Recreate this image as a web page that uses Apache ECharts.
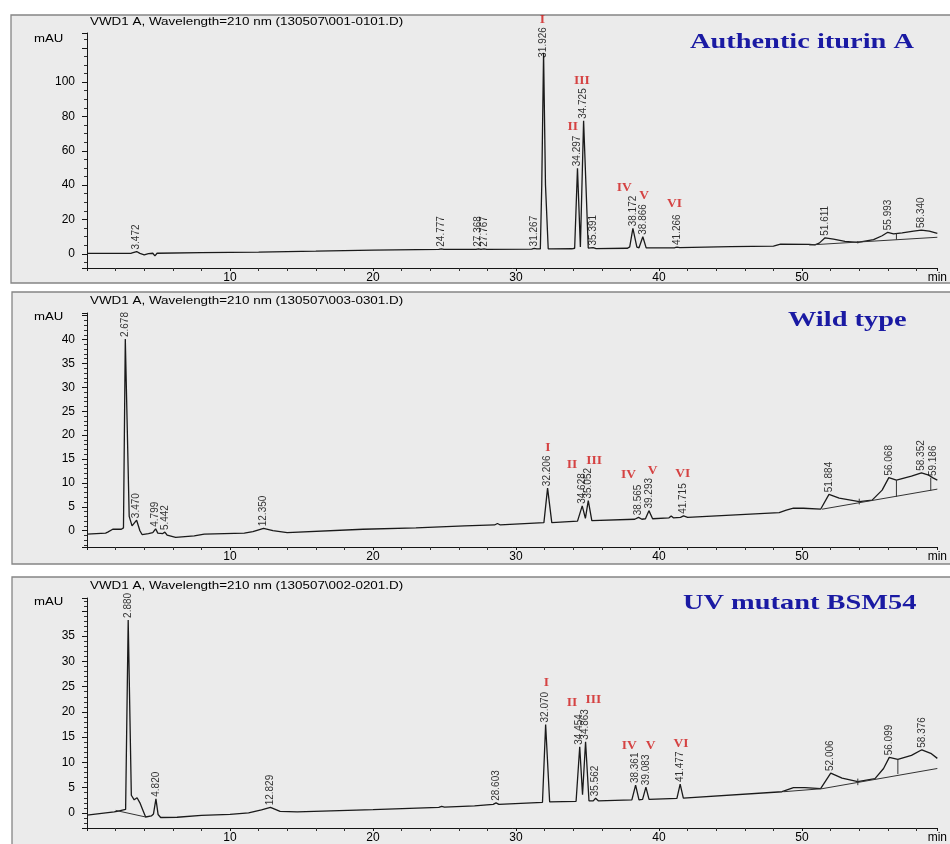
<!DOCTYPE html>
<html>
<head>
<meta charset="utf-8">
<title>HPLC chromatograms – iturin A isoforms</title>
<script src="https://cdn.jsdelivr.net/npm/echarts@6/dist/echarts.min.js"></script>
<style>
  html, body { margin: 0; padding: 0; background: #ffffff; }
  #chart { width: 950px; height: 844px; }
</style>
</head>
<body>
<div id="chart"></div>
<script>
// ---------------------------------------------------------------------------
// Run information
// ---------------------------------------------------------------------------
const runFiles = ['130507\\001-0101.D', '130507\\003-0301.D', '130507\\002-0201.D'];
const sampleNames = ['Authentic iturin A', 'Wild type', 'UV mutant BSM54'];
const isoforms = ['I', 'II', 'III', 'IV', 'V', 'VI'];
const timeAxisEnd = 59.46;           // last visible minute of the run

// ---------------------------------------------------------------------------
// Authentic iturin A standard: detector trace [min, mAU]
// ---------------------------------------------------------------------------
const authTrace = [
  [0, 0.2], [3.1, 0.3], [3.472, 1.3], [3.7, 0.2], [4.0, -0.6], [4.3, 0.1], [4.6, 0.3],
  [4.75, -1.2], [4.9, 0.3], [8, 0.7], [12, 1.0], [16, 1.5], [20, 2.1], [24.6, 2.5],
  [24.777, 2.9], [24.95, 2.5], [27.2, 2.6], [27.368, 2.9], [27.55, 2.6], [27.767, 2.9],
  [27.95, 2.6], [31.1, 2.7], [31.267, 3.1], [31.45, 2.8], [31.7, 2.8], [31.8, 40],
  [31.926, 117], [32.06, 40], [32.25, 2.9], [32.5, 2.8], [33.9, 2.9], [34.1, 3.2],
  [34.297, 49.8], [34.5, 4.0], [34.725, 77.4], [35.05, 3.3], [35.391, 3.6], [35.6, 3.0],
  [37.8, 3.2], [37.95, 4.0], [38.172, 14.8], [38.45, 3.8], [38.6, 3.5], [38.866, 9.9],
  [39.1, 3.4], [41.1, 3.5], [41.266, 3.9], [41.45, 3.6], [45, 4.1], [48.0, 4.5],
  [48.5, 5.6], [50.5, 5.5], [50.9, 5.2], [51.2, 6.2], [51.611, 9.3], [52.2, 8.5],
  [53.0, 7.2], [53.9, 6.6], [55.0, 8.2], [55.6, 10.5], [55.993, 12.5], [56.4, 11.6],
  [57.0, 12.2], [57.8, 13.2], [58.34, 13.8], [58.9, 13.2], [59.46, 11.9]
];
const authPeaks = [3.472, 24.777, 27.368, 27.767, 31.267, 31.926, 34.297, 34.725, 35.391,
  38.172, 38.866, 41.266, 51.611, 55.993, 58.340];
const authIsoformAt = [[31.85, 136.3], [33.96, 74.0], [34.6, 100.8], [37.57, 38.5], [38.95, 34.2], [41.08, 29.0]];
const authBaselines = [
  [[50.5, 5.1], [59.46, 9.6]],
  [[56.6, 11.8], [56.6, 8.2]],
  [[53.9, 7.4], [53.9, 6.0]]
];

// ---------------------------------------------------------------------------
// Wild type culture extract
// ---------------------------------------------------------------------------
const wildTrace = [
  [0, -0.7], [1.3, -0.5], [1.36, -0.1], [1.45, -0.3], [1.8, 0.3], [2.4, 0.3], [2.55, 0.6],
  [2.678, 40.1], [2.95, 3.0], [3.15, 1.0], [3.47, 2.2], [3.7, 0.0], [3.85, -0.8],
  [4.3, -0.6], [4.6, -0.4], [4.799, 0.4], [4.95, -0.5], [5.3, -0.6], [5.442, -0.3],
  [5.6, -0.9], [6.2, -1.4], [7.5, -1.1], [8.2, -0.7], [11.0, -0.5], [11.6, -0.2],
  [12.35, 0.5], [13.0, 0.0], [14.0, -0.4], [19.3, 0.3], [23, 0.6], [26.4, 1.0],
  [28.5, 1.2], [28.7, 1.5], [28.9, 1.2], [31.95, 1.7], [32.206, 8.9], [32.5, 1.7],
  [34.3, 2.0], [34.628, 5.2], [34.85, 2.6], [35.052, 6.3], [35.3, 2.1], [38.3, 2.4],
  [38.565, 2.8], [38.8, 2.4], [39.05, 2.5], [39.293, 4.2], [39.55, 2.5], [40.7, 2.7],
  [40.85, 3.1], [41.0, 2.7], [41.5, 2.8], [41.715, 3.1], [42.0, 2.8], [48.4, 3.8],
  [48.9, 4.3], [49.4, 4.7], [50.1, 4.7], [51.3, 4.5], [51.884, 7.6], [52.6, 6.8],
  [54.0, 6.1], [54.9, 6.4], [55.6, 8.5], [56.068, 11.1], [56.6, 10.6], [57.65, 11.4],
  [58.352, 12.1], [58.8, 11.7], [59.186, 11.0], [59.46, 10.6]
];
const wildPeaks = [2.678, 3.470, 4.799, 5.442, 12.350, 32.206, 34.628, 35.052, 38.565,
  39.293, 41.715, 51.884, 56.068, 58.352, 59.186];
const wildIsoformAt = [[32.22, 17.4], [33.92, 13.9], [35.46, 14.7], [37.87, 11.8], [39.55, 12.6], [41.66, 12.0]];
const wildBaselines = [
  [[51.4, 4.5], [59.46, 8.7]],
  [[56.6, 10.6], [56.6, 7.1]],
  [[59.0, 11.1], [59.0, 8.4]],
  [[54.0, 6.7], [54.0, 5.5]]
];

// ---------------------------------------------------------------------------
// UV mutant BSM54 extract
// ---------------------------------------------------------------------------
const mutantTrace = [
  [0, -0.45], [1.9, 0.2], [2.0, 0.5], [2.1, 0.3], [2.7, 0.7], [2.88, 38.2], [3.1, 3.5],
  [3.3, 2.6], [3.5, 3.0], [3.7, 2.0], [3.9, 0.6], [4.1, -0.8], [4.5, -0.6], [4.65, -0.2],
  [4.82, 2.8], [4.97, -0.3], [5.15, -0.9], [6.3, -0.85], [8.0, -0.5], [10.0, -0.3],
  [11.3, 0.0], [12.2, 0.6], [12.829, 1.1], [13.5, 0.3], [14.7, 0.2], [20, 0.65],
  [24.6, 1.1], [24.8, 1.3], [25.0, 1.15], [27.1, 1.4], [28.4, 1.7], [28.603, 2.0],
  [28.8, 1.7], [31.85, 2.1], [32.07, 17.5], [32.35, 2.2], [34.2, 2.3], [34.454, 13.1],
  [34.65, 3.6], [34.863, 14.1], [35.1, 2.4], [35.4, 2.4], [35.562, 2.9], [35.75, 2.4],
  [38.1, 2.6], [38.361, 5.5], [38.6, 2.6], [38.85, 2.7], [39.083, 5.1], [39.3, 2.7],
  [41.25, 2.9], [41.477, 5.7], [41.7, 2.95], [48.6, 4.2], [49.0, 4.6], [49.4, 5.0],
  [50.2, 5.0], [51.3, 4.8], [52.006, 7.9], [52.8, 6.9], [53.9, 6.2], [55.1, 6.8],
  [55.7, 8.8], [56.099, 11.0], [56.7, 10.6], [57.65, 11.4], [58.376, 12.5], [59.0, 11.8],
  [59.46, 10.8]
];
const mutantPeaks = [2.880, 4.820, 12.829, 28.603, 32.070, 34.454, 34.863, 35.562, 38.361,
  39.083, 41.477, 52.006, 56.099, 58.376];
const mutantIsoformAt = [[32.12, 25.8], [33.92, 21.9], [35.41, 22.5], [37.91, 13.3], [39.41, 13.4], [41.54, 13.8]];
const mutantBaselines = [
  [[2.0, 0.5], [4.1, -0.8]],
  [[48.7, 4.2], [51.4, 4.8], [59.46, 8.8]],
  [[56.7, 10.6], [56.7, 7.7]],
  [[53.9, 6.8], [53.9, 5.5]]
];

// ---------------------------------------------------------------------------
// Panel layout (pixels) and axis settings
// ---------------------------------------------------------------------------
const panels = [
  { trace: authTrace, peaks: authPeaks, isoAt: authIsoformAt, baselines: authBaselines,
    file: runFiles[0], name: sampleNames[0],
    frame: { x: 11, y: 15, h: 268 }, grid: { top: 33, height: 235 },
    y: { min: -8.3, max: 128.6, step: 20, minor: 4, lastLabel: 100 }, labelCap: 113,
    headerY: 22, unitY: 39, nameX: 690, nameY: 42 },
  { trace: wildTrace, peaks: wildPeaks, isoAt: wildIsoformAt, baselines: wildBaselines,
    file: runFiles[1], name: sampleNames[1],
    frame: { x: 12, y: 292, h: 272 }, grid: { top: 313, height: 234 },
    y: { min: -3.41, max: 45.56, step: 5, minor: 5, lastLabel: 40 }, labelCap: Infinity,
    headerY: 301, unitY: 317, nameX: 788, nameY: 320 },
  { trace: mutantTrace, peaks: mutantPeaks, isoAt: mutantIsoformAt, baselines: mutantBaselines,
    file: runFiles[2], name: sampleNames[2],
    frame: { x: 12, y: 577, h: 280 }, grid: { top: 598, height: 234 },
    y: { min: -2.98, max: 42.55, step: 5, minor: 5, lastLabel: 35 }, labelCap: Infinity,
    headerY: 586, unitY: 602, nameX: 683, nameY: 603 }
];

const SANS = '"Liberation Sans", Arial, sans-serif';
const SERIF = '"Liberation Serif", "Times New Roman", serif';
const INK = '#151515';

// Highest trace value around a retention time (where its label sits)
function apexNear(trace, t) {
  let best = -Infinity, nearest = null, nd = Infinity;
  for (const [x, y] of trace) {
    if (Math.abs(x - t) <= 0.1) best = Math.max(best, y);
    if (Math.abs(x - t) < nd) { nd = Math.abs(x - t); nearest = y; }
  }
  return best === -Infinity ? nearest : best;
}

const grids = [], xAxes = [], yAxes = [], series = [], graphics = [];

panels.forEach((p, i) => {
  grids.push({ left: 87, right: 0, top: p.grid.top, height: p.grid.height });

  xAxes.push({
    type: 'value', gridIndex: i, min: 0, max: timeAxisEnd, interval: 10,
    axisLine: { onZero: false, lineStyle: { color: INK, width: 1 } },
    axisTick: { length: 3, lineStyle: { color: INK } },
    minorTick: { show: true, splitNumber: 5, length: 3, lineStyle: { color: '#333' } },
    splitLine: { show: false },
    axisLabel: {
      showMinLabel: true, showMaxLabel: true, alignMaxLabel: 'center', margin: 4,
      fontFamily: SANS, fontSize: 12, color: '#000',
      formatter: v => (v === 0 ? '' : (v > 59 ? 'min' : String(v)))
    }
  });

  const yc = p.y;
  yAxes.push({
    type: 'value', gridIndex: i, min: yc.min, max: yc.max,
    minInterval: yc.step, maxInterval: yc.step,
    splitNumber: Math.round((yc.max - yc.min) / yc.step),
    axisLine: { show: true, onZero: false, lineStyle: { color: INK, width: 1 } },
    axisTick: { show: true, length: 5, lineStyle: { color: INK } },
    minorTick: { show: true, splitNumber: yc.minor, length: 3, lineStyle: { color: '#333' } },
    splitLine: { show: false },
    axisLabel: {
      showMinLabel: false, showMaxLabel: false, margin: 12,
      fontFamily: SANS, fontSize: 12, color: '#000',
      formatter: v => (v < 0 || v > yc.lastLabel || Math.abs(v % yc.step) > 1e-6) ? '' : String(v)
    }
  });

  // detector signal
  series.push({
    type: 'line', xAxisIndex: i, yAxisIndex: i, data: p.trace,
    symbol: 'none', smooth: false, animation: false, z: 3,
    lineStyle: { color: '#1a1a1a', width: 1.3 }
  });

  // integration baselines and drop lines
  p.baselines.forEach(seg => {
    series.push({
      type: 'line', xAxisIndex: i, yAxisIndex: i, data: seg,
      symbol: 'none', animation: false, z: 3,
      lineStyle: { color: '#333', width: 1 }
    });
  });

  // retention-time labels above each integrated peak
  series.push({
    type: 'scatter', xAxisIndex: i, yAxisIndex: i, animation: false, clip: false, z: 4,
    symbolSize: 0.1, itemStyle: { color: 'rgba(0,0,0,0)' },
    data: p.peaks.map(rt => ({ name: rt.toFixed(3), value: [rt, Math.min(apexNear(p.trace, rt), p.labelCap)] })),
    label: {
      show: true, formatter: '{b}', position: 'top', distance: 2, rotate: 90,
      align: 'left', verticalAlign: 'middle',
      fontFamily: SANS, fontSize: 10, color: '#000'
    }
  });

  // iturin A isoform markers
  series.push({
    type: 'scatter', xAxisIndex: i, yAxisIndex: i, animation: false, clip: false, z: 5,
    symbolSize: 0.1, itemStyle: { color: 'rgba(0,0,0,0)' },
    data: p.isoAt.map((pt, k) => ({ name: isoforms[k], value: pt })),
    label: {
      show: true, formatter: '{b}', position: 'inside',
      align: 'center', verticalAlign: 'middle',
      fontFamily: SERIF, fontWeight: 'bold', fontSize: 13.5, color: '#d01818'
    }
  });

  // panel frame
  graphics.push({
    type: 'rect', z: -10, silent: true,
    shape: { x: p.frame.x, y: p.frame.y, width: 960, height: p.frame.h },
    style: { fill: '#ebebeb', stroke: '#858585', lineWidth: 1.3 }
  });
  // signal header
  graphics.push({
    type: 'text', z: 10, x: 90, y: p.headerY, scaleX: 1.22, silent: true,
    style: {
      text: 'VWD1 A, Wavelength=210 nm (' + p.file + ')',
      font: '11px ' + SANS, fill: '#000',
      align: 'left', verticalAlign: 'middle', textAlign: 'left', textVerticalAlign: 'middle'
    }
  });
  // unit
  graphics.push({
    type: 'text', z: 10, x: 34, y: p.unitY, scaleX: 1.2, silent: true,
    style: {
      text: 'mAU', font: '11px ' + SANS, fill: '#000',
      align: 'left', verticalAlign: 'middle', textAlign: 'left', textVerticalAlign: 'middle'
    }
  });
  // sample name
  graphics.push({
    type: 'text', z: 10, x: p.nameX, y: p.nameY, scaleX: 1.32, silent: true,
    style: {
      text: p.name, font: 'bold 21.5px ' + SERIF, fill: '#1a1aa3',
      align: 'left', verticalAlign: 'middle', textAlign: 'left', textVerticalAlign: 'middle'
    }
  });
});

const chart = echarts.init(document.getElementById('chart'), null, { renderer: 'canvas' });
chart.setOption({
  animation: false,
  backgroundColor: '#ffffff',
  grid: grids,
  xAxis: xAxes,
  yAxis: yAxes,
  series: series,
  graphic: { elements: graphics }
});
</script>
</body>
</html>
